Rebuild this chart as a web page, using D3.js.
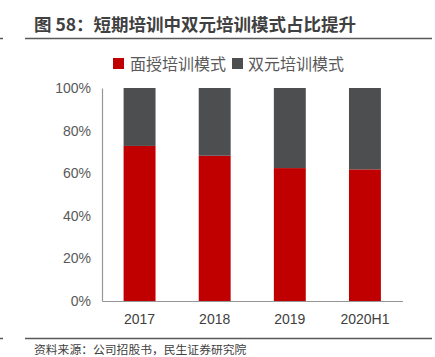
<!DOCTYPE html>
<html><head><meta charset="utf-8">
<script src="https://cdn.jsdelivr.net/npm/d3@7"></script>
<style>body{margin:0;background:#fff}svg{display:block}</style>
</head><body>
<svg id="c" width="435" height="357"></svg>
<script>
const categories = ["2017", "2018", "2019", "2020H1"];
const seriesNames = ["面授培训模式", "双元培训模式"];
const faceToFace = [72.8, 68.2, 62.4, 61.8];
const dualMode = [27.2, 31.8, 37.6, 38.2];
const yTicks = [0, 20, 40, 60, 80, 100];
const colors = ["#C00000", "#4D4E50"];
const titleText = "图 58：短期培训中双元培训模式占比提升";
const sourceText = "资料来源：公司招股书，民生证券研究院";

const svg = d3.select("#c");
const font = "'Liberation Sans', Arial, 'Noto Sans CJK SC', sans-serif";
const cjk = "'Noto Sans CJK SC', sans-serif";

// title
svg.append("text").attr("x", 34).attr("y", 31).attr("font-family", cjk)
  .attr("font-size", 17.5).attr("font-weight", "bold").attr("fill", "#404040").text(titleText);
svg.append("line").attr("x1", 25).attr("x2", 432).attr("y1", 38.5).attr("y2", 38.5)
  .attr("stroke", "#595959").attr("stroke-width", 1.5);
svg.append("line").attr("x1", 0).attr("x2", 3).attr("y1", 38.5).attr("y2", 38.5)
  .attr("stroke", "#595959").attr("stroke-width", 1.5);

const x = d3.scaleBand().domain(categories).range([102, 402.5]).paddingInner(0.575).paddingOuter(0.2875);
const y = d3.scaleLinear().domain([0, 100]).range([301, 88]);

const stackData = categories.map((c, i) => ({cat: c, a: faceToFace[i], b: dualMode[i]}));
const stack = d3.stack().keys(["a", "b"])(stackData);

svg.append("g").selectAll("g").data(stack).join("g").attr("fill", (d, i) => colors[i])
  .selectAll("rect").data(d => d).join("rect")
  .attr("x", d => x(d.data.cat)).attr("width", x.bandwidth())
  .attr("y", d => y(d[1])).attr("height", d => y(d[0]) - y(d[1]));

// y axis
const ya = svg.append("g").attr("transform", "translate(102,0)")
  .call(d3.axisLeft(y).tickValues(yTicks).tickFormat(d => d + "%").tickSize(0).tickPadding(11));
ya.select(".domain").attr("stroke", "#969696").attr("stroke-width", 1.2);
ya.selectAll("text").attr("font-family", font).attr("font-size", 14).attr("fill", "#595959");

// x axis
const xa = svg.append("g").attr("transform", "translate(0,301)")
  .call(d3.axisBottom(x).tickSize(0).tickPadding(13));
xa.select(".domain").attr("stroke", "#969696").attr("stroke-width", 1.2);
xa.selectAll("text").attr("font-family", font).attr("font-size", 14).attr("fill", "#404040");

// legend
const leg = [{x: 113, tx: 130}, {x: 232, tx: 248}];
seriesNames.forEach((n, i) => {
  svg.append("rect").attr("x", leg[i].x).attr("y", 58).attr("width", 11).attr("height", 11).attr("fill", colors[i]);
  svg.append("text").attr("x", leg[i].tx).attr("y", 69.5).attr("font-family", cjk)
    .attr("font-size", 16).attr("fill", "#595959").text(n);
});

// bottom rule and source
svg.append("line").attr("x1", 25).attr("x2", 432).attr("y1", 338.5).attr("y2", 338.5)
  .attr("stroke", "#595959").attr("stroke-width", 1.5);
svg.append("line").attr("x1", 0).attr("x2", 3).attr("y1", 338.5).attr("y2", 338.5)
  .attr("stroke", "#595959").attr("stroke-width", 1.5);
svg.append("text").attr("x", 34).attr("y", 353.5).attr("font-family", cjk)
  .attr("font-size", 11.8).attr("fill", "#404040").text(sourceText);
</script>
</body></html>
